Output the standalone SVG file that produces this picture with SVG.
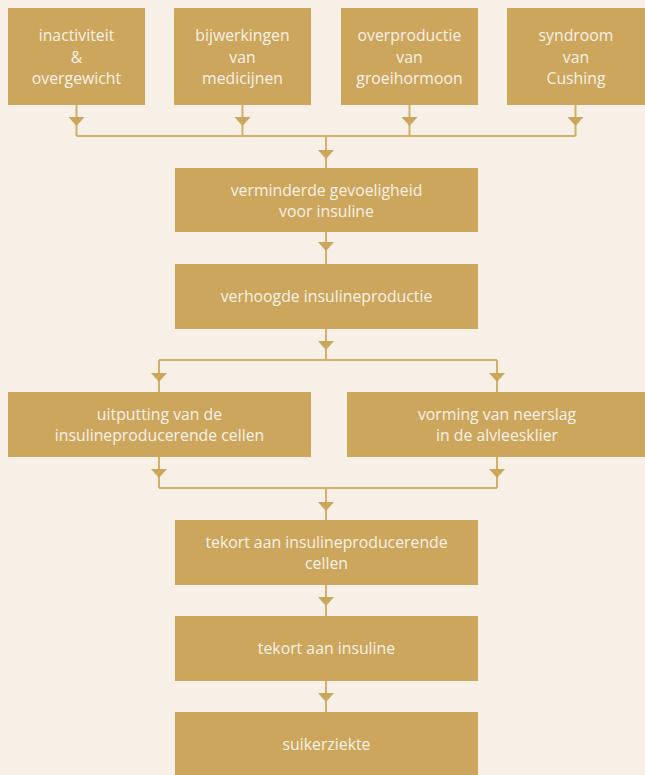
<svg xmlns="http://www.w3.org/2000/svg" width="645" height="775" viewBox="0 0 645 775">
<style>
.box{fill:#CBA65C}
.t{font-family:"Open Sans","Noto Sans",sans-serif;font-size:15.8px;fill:#F8F1E6;text-anchor:middle}
.ln{stroke:#D2B06A;stroke-width:2;fill:none}
.ah{fill:#CBA65C}
</style>
<rect width="645" height="775" fill="#F7F0E7"/>
<defs>
<path id="tri" d="M-8,0 L8,0 L0,9 Z"/>
</defs>
<g id="connectors">
<path class="ln" d="M76.5,105V136M242.5,105V136M409.5,105V136M575.5,105V136M76.5,136H575.5M326,136V168"/>
<path class="ln" d="M326,232V264"/>
<path class="ln" d="M326,329V360M159,360H497M159,360V392M497,360V392"/>
<path class="ln" d="M159,457V488M497,457V488M159,488H497M326,488V520"/>
<path class="ln" d="M326,585V616"/>
<path class="ln" d="M326,681V712"/>
<g class="ah">
<use href="#tri" x="76.5" y="117"/>
<use href="#tri" x="242.5" y="117"/>
<use href="#tri" x="409.5" y="117"/>
<use href="#tri" x="575.5" y="117"/>
<use href="#tri" x="326" y="150"/>
<use href="#tri" x="326" y="242"/>
<use href="#tri" x="326" y="341"/>
<use href="#tri" x="159" y="373"/>
<use href="#tri" x="497" y="373"/>
<use href="#tri" x="159" y="469"/>
<use href="#tri" x="497" y="469"/>
<use href="#tri" x="326" y="502"/>
<use href="#tri" x="326" y="597"/>
<use href="#tri" x="326" y="693"/>
</g>
</g>
<g id="n1"><rect class="box" x="8" y="8" width="137" height="97"/><text class="t" x="76.5" y="41">inactiviteit</text><text class="t" x="76.5" y="62.5">&amp;</text><text class="t" x="76.5" y="84">overgewicht</text></g>
<g id="n2"><rect class="box" x="174" y="8" width="137" height="97"/><text class="t" x="242.5" y="41">bijwerkingen</text><text class="t" x="242.5" y="62.5">van</text><text class="t" x="242.5" y="84">medicijnen</text></g>
<g id="n3"><rect class="box" x="341" y="8" width="137" height="97"/><text class="t" x="409.5" y="41">overproductie</text><text class="t" x="409.5" y="62.5">van</text><text class="t" x="409.5" y="84">groeihormoon</text></g>
<g id="n4"><rect class="box" x="507" y="8" width="138" height="97"/><text class="t" x="576" y="41">syndroom</text><text class="t" x="576" y="62.5">van</text><text class="t" x="576" y="84">Cushing</text></g>
<g id="n5"><rect class="box" x="175" y="168" width="303" height="64"/><text class="t" x="326.5" y="196">verminderde gevoeligheid</text><text class="t" x="326.5" y="217">voor insuline</text></g>
<g id="n6"><rect class="box" x="175" y="264" width="303" height="65"/><text class="t" x="326.5" y="302">verhoogde insulineproductie</text></g>
<g id="n7"><rect class="box" x="8" y="392" width="303" height="65"/><text class="t" x="159.5" y="420">uitputting van de</text><text class="t" x="159.5" y="441">insulineproducerende cellen</text></g>
<g id="n8"><rect class="box" x="347" y="392" width="298" height="65"/><text class="t" x="497" y="420">vorming van neerslag</text><text class="t" x="497" y="441">in de alvleesklier</text></g>
<g id="n9"><rect class="box" x="175" y="520" width="303" height="65"/><text class="t" x="326.5" y="548">tekort aan insulineproducerende</text><text class="t" x="326.5" y="569">cellen</text></g>
<g id="n10"><rect class="box" x="175" y="616" width="303" height="65"/><text class="t" x="326.5" y="654">tekort aan insuline</text></g>
<g id="n11"><rect class="box" x="175" y="712" width="303" height="63"/><text class="t" x="326.5" y="750">suikerziekte</text></g>
</svg>
